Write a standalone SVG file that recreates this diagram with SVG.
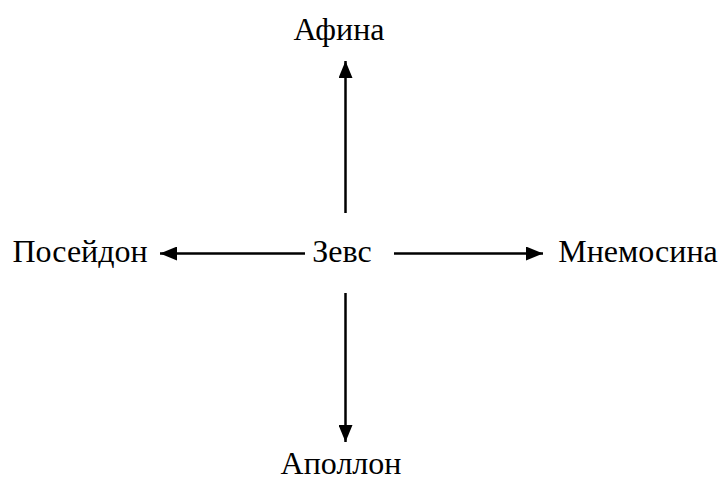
<svg xmlns="http://www.w3.org/2000/svg" width="720" height="486" viewBox="0 0 720 486">
<style>
text{font-family:"Liberation Serif","Times New Roman",serif;font-size:32px;fill:#000;text-anchor:middle}
.c line{stroke:#000;stroke-width:2.5}
</style>
<defs>
<marker id="ah" viewBox="0 0 17 14" refX="17" refY="7" markerWidth="17" markerHeight="14" markerUnits="userSpaceOnUse" orient="auto">
<path d="M0,0 L17,7 L0,14 Z" fill="#000"/>
</marker>
</defs>
<rect width="720" height="486" fill="#fff"/>
<g id="zeus"><text x="342" y="262">Зевс</text></g>
<g id="athena"><text x="339" y="40">Афина</text></g>
<g id="poseidon"><text x="80" y="262">Посейдон</text></g>
<g id="mnemosyne"><text x="638" y="262">Мнемосина</text></g>
<g id="apollo"><text x="341" y="474">Аполлон</text></g>
<g class="c" id="connectors">
<line x1="345.5" y1="213" x2="345.5" y2="61" marker-end="url(#ah)"/>
<line x1="305" y1="253.5" x2="160" y2="253.5" marker-end="url(#ah)"/>
<line x1="394" y1="253.5" x2="543" y2="253.5" marker-end="url(#ah)"/>
<line x1="345.5" y1="293" x2="345.5" y2="442" marker-end="url(#ah)"/>
</g>
</svg>
